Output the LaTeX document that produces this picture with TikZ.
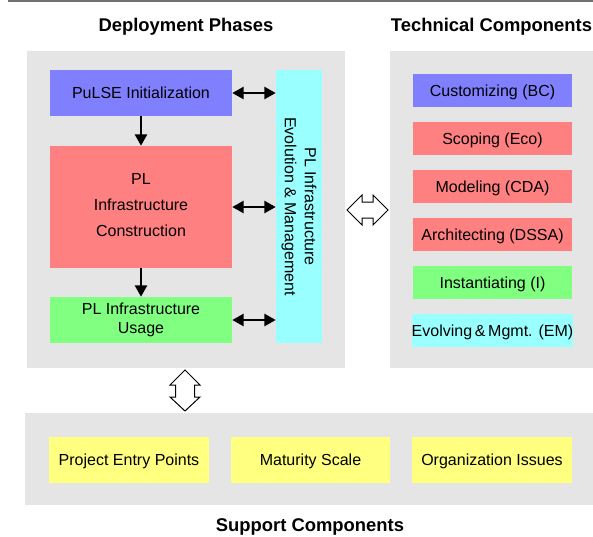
\documentclass[tikz,border=0pt]{standalone}
\usepackage{fontspec}
\setmainfont{Liberation Sans}
\usetikzlibrary{arrows.meta}

\definecolor{panelgray}{RGB}{229,229,229}
\definecolor{rulegray}{RGB}{112,112,112}
\definecolor{phaseblue}{RGB}{128,128,255}
\definecolor{phasered}{RGB}{255,128,128}
\definecolor{phasegreen}{RGB}{128,255,128}
\definecolor{phasecyan}{RGB}{153,255,255}
\definecolor{supportyellow}{RGB}{255,255,128}

\begin{document}
\begin{tikzpicture}[x=0.75pt,y=-0.75pt,
  panel/.style={fill=panelgray},
  box/.style={rectangle, inner sep=0pt, align=center, font=\fontsize{12}{14}\selectfont},
  onebox/.style={box, text height=8.6pt, text depth=0pt},
  phasebox/.style={minimum width=136.5pt},
  techbox/.style={onebox, minimum width=119.25pt, minimum height=24.75pt},
  supbox/.style={onebox, fill=supportyellow, minimum width=119.5pt, minimum height=34.5pt},
  title/.style={font=\bfseries\fontsize{13.8}{16}\selectfont, anchor=base, inner sep=0pt},
  flow/.style={line width=1.8pt, -{Triangle[length=8.5pt,width=9pt]}},
  both/.style={line width=1.8pt, {Triangle[length=8.5pt,width=9pt]}-{Triangle[length=8.5pt,width=9pt]}},
  blockarrow/.style={fill=white, draw=black, line width=0.75pt, line join=miter},
]
\useasboundingbox (0,0) rectangle (593,536);

% rule along the top edge
\draw[rulegray, line width=1.2pt] (8,0.8) -- (593,0.8);

% section titles
\node[title] (tdep)  at (186,31.5)   {Deployment Phases};
\node[title] (ttech) at (491.5,31.5) {Technical Components};
\node[title] (tsup)  at (310,531.5)  {Support Components};

% grey panels
\fill[panel] (27,51) rectangle (345,368);
\fill[panel] (390,51) rectangle (593,368);
\fill[panel] (25,413) rectangle (593,505);

% deployment phases
\node[onebox, phasebox, fill=phaseblue, minimum height=34.5pt] (init) at (141,93) {PuLSE Initialization};
\node[box, phasebox, fill=phasered, minimum height=91.5pt,
      font=\fontsize{12}{19.5}\selectfont] (cons) at (141,207)
      {PL\\Infrastructure\\Construction\rule[-3pt]{0pt}{3pt}};
\node[box, phasebox, fill=phasegreen, minimum height=34.5pt,
      font=\fontsize{12}{13.75}\selectfont] (usage) at (141,320) {PL Infrastructure\\Usage};
\node[box, fill=phasecyan, minimum width=34.5pt, minimum height=204.75pt] (bar) at (299,206.5) {};
\node[box, rotate=-90, font=\fontsize{12}{15}\selectfont] (bartext) at (bar.center)
      {PL Infrastructure\\Evolution \& Management};

\draw[flow] (init.south) -- (cons.north);
\draw[flow] (cons.south) -- (usage.north);
\draw[both] (init.east)  -- (init.east -| bar.west);
\draw[both] (cons.east)  -- (cons.east -| bar.west);
\draw[both] (usage.east) -- (usage.east -| bar.west);

% technical components
\node[techbox, fill=phaseblue]  (bc)   at (492.5,90.5)  {Customizing (BC)};
\node[techbox, fill=phasered]   (eco)  at (492.5,138.5) {Scoping (Eco)};
\node[techbox, fill=phasered]   (cda)  at (492.5,186.5) {Modeling (CDA)};
\node[techbox, fill=phasered]   (dssa) at (492.5,234.5) {Architecting (DSSA)};
\node[techbox, fill=phasegreen] (inst) at (492.5,282.5) {Instantiating (I)};
\node[techbox, fill=phasecyan]  (em)   at (492.5,330.5) {Evolving\,\&\,Mgmt. (EM)};

% support components
\node[supbox] (entry)    at (129,460)   {Project Entry Points};
\node[supbox] (maturity) at (310.5,460) {Maturity Scale};
\node[supbox] (orga)     at (492,460)   {Organization Issues};

% hollow double arrows between the panels
\draw[blockarrow] (347,210) -- (362,195) -- (362,202) -- (373,202) -- (373,195)
  -- (388,210) -- (373,225) -- (373,218) -- (362,218) -- (362,225) -- cycle;
\draw[blockarrow] (185,370) -- (200,385) -- (194.5,385) -- (194.5,397) -- (200,397)
  -- (185,411) -- (170,397) -- (175.5,397) -- (175.5,385) -- (170,385) -- cycle;
\end{tikzpicture}
\end{document}
